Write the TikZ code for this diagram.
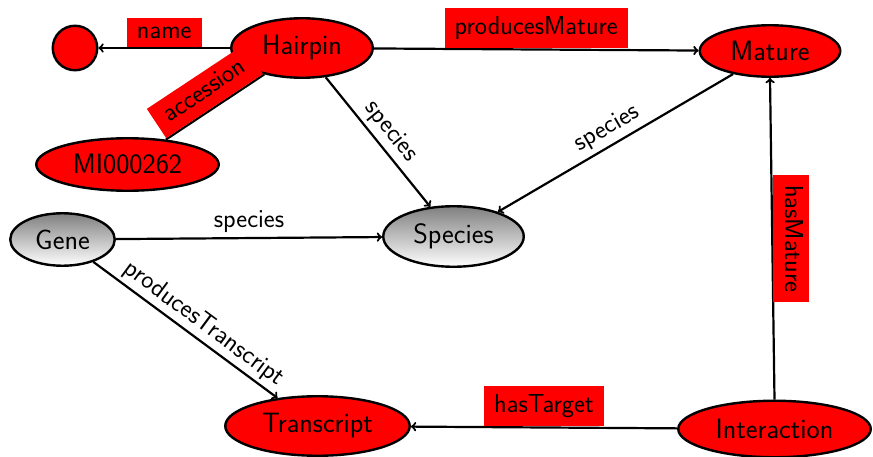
\documentclass[tikz,border=0pt]{standalone}
\usepackage{fontspec}
\usetikzlibrary{shapes.geometric}
\tikzset{
  ent/.style={ellipse, draw=black, line width=2.4pt, inner sep=0pt, text=black,
    font=\sffamily\fontsize{28}{33}\selectfont},
  rednode/.style={ent, fill=red},
  graynode/.style={ent, top color=black!50, bottom color=white, shading angle=0},
  conn/.style={line width=2.2pt, ->},
  plainconn/.style={line width=2.2pt},
  lbl/.style={font=\sffamily\fontsize{26}{31}\selectfont, text=black, text height=18pt, text depth=5.5pt},
  redlbl/.style={lbl, fill=red, inner sep=0pt}
}
\begin{document}
\begin{tikzpicture}[x=1pt,y=-1pt]
\useasboundingbox (0,0) rectangle (873,457);
% nodes
\node[circle, draw=black, line width=2.4pt, fill=red, minimum size=44.5pt, inner sep=0pt] (nm) at (75,48) {};
\node[rednode, minimum width=141.5pt, minimum height=59.5pt] (hairpin) at (302,48) {Hairpin};
\node[rednode, minimum width=140.5pt, minimum height=51.5pt] (mature) at (770,51) {Mature};
\node[rednode, minimum width=182.5pt, minimum height=52.5pt] (mi) at (127.5,164.5) {MI000262};
\node[graynode, minimum width=140.5pt, minimum height=60.5pt] (species) at (453.5,236.5) {Species};
\node[graynode, minimum width=104.5pt, minimum height=52.5pt] (gene) at (62.5,239.5) {Gene};
\node[rednode, minimum width=184.5pt, minimum height=59.5pt] (transcript) at (317.5,426) {Transcript};
\node[rednode, minimum width=192.5pt, minimum height=56.5pt] (interaction) at (774.5,429) {Interaction};
% edges
\draw[conn] (hairpin) -- node[redlbl, midway, anchor=south, minimum width=75pt, minimum height=29pt] {name} (nm);
\draw[conn] (hairpin) -- node[redlbl, midway, anchor=south, minimum width=183pt, minimum height=40pt] {producesMature} (mature);
\draw[plainconn] (hairpin.215) -- node[redlbl, midway, sloped, anchor=south, minimum width=116pt, minimum height=35pt] {accession} (mi.33);
\draw[conn] (hairpin.-51) -- node[lbl, midway, sloped, above, inner sep=4pt] {species} (species.128);
\draw[conn] (mature.212) -- node[lbl, midway, sloped, above, inner sep=4pt] {species} (species.29);
\draw[conn] (gene) -- node[lbl, midway, above, inner sep=4pt] {species} (species);
\draw[conn] (gene.-36) -- node[lbl, pos=0.55, sloped, above, inner sep=3pt] {producesTranscript} (transcript.145);
\draw[conn] (interaction) -- node[redlbl, midway, anchor=south, minimum width=120pt, minimum height=40pt] {hasTarget} (transcript);
\draw[conn] (interaction.north) -- node[redlbl, midway, anchor=south, rotate=-90, minimum width=127pt, minimum height=36pt] {hasMature} (mature.south);
\end{tikzpicture}
\end{document}
